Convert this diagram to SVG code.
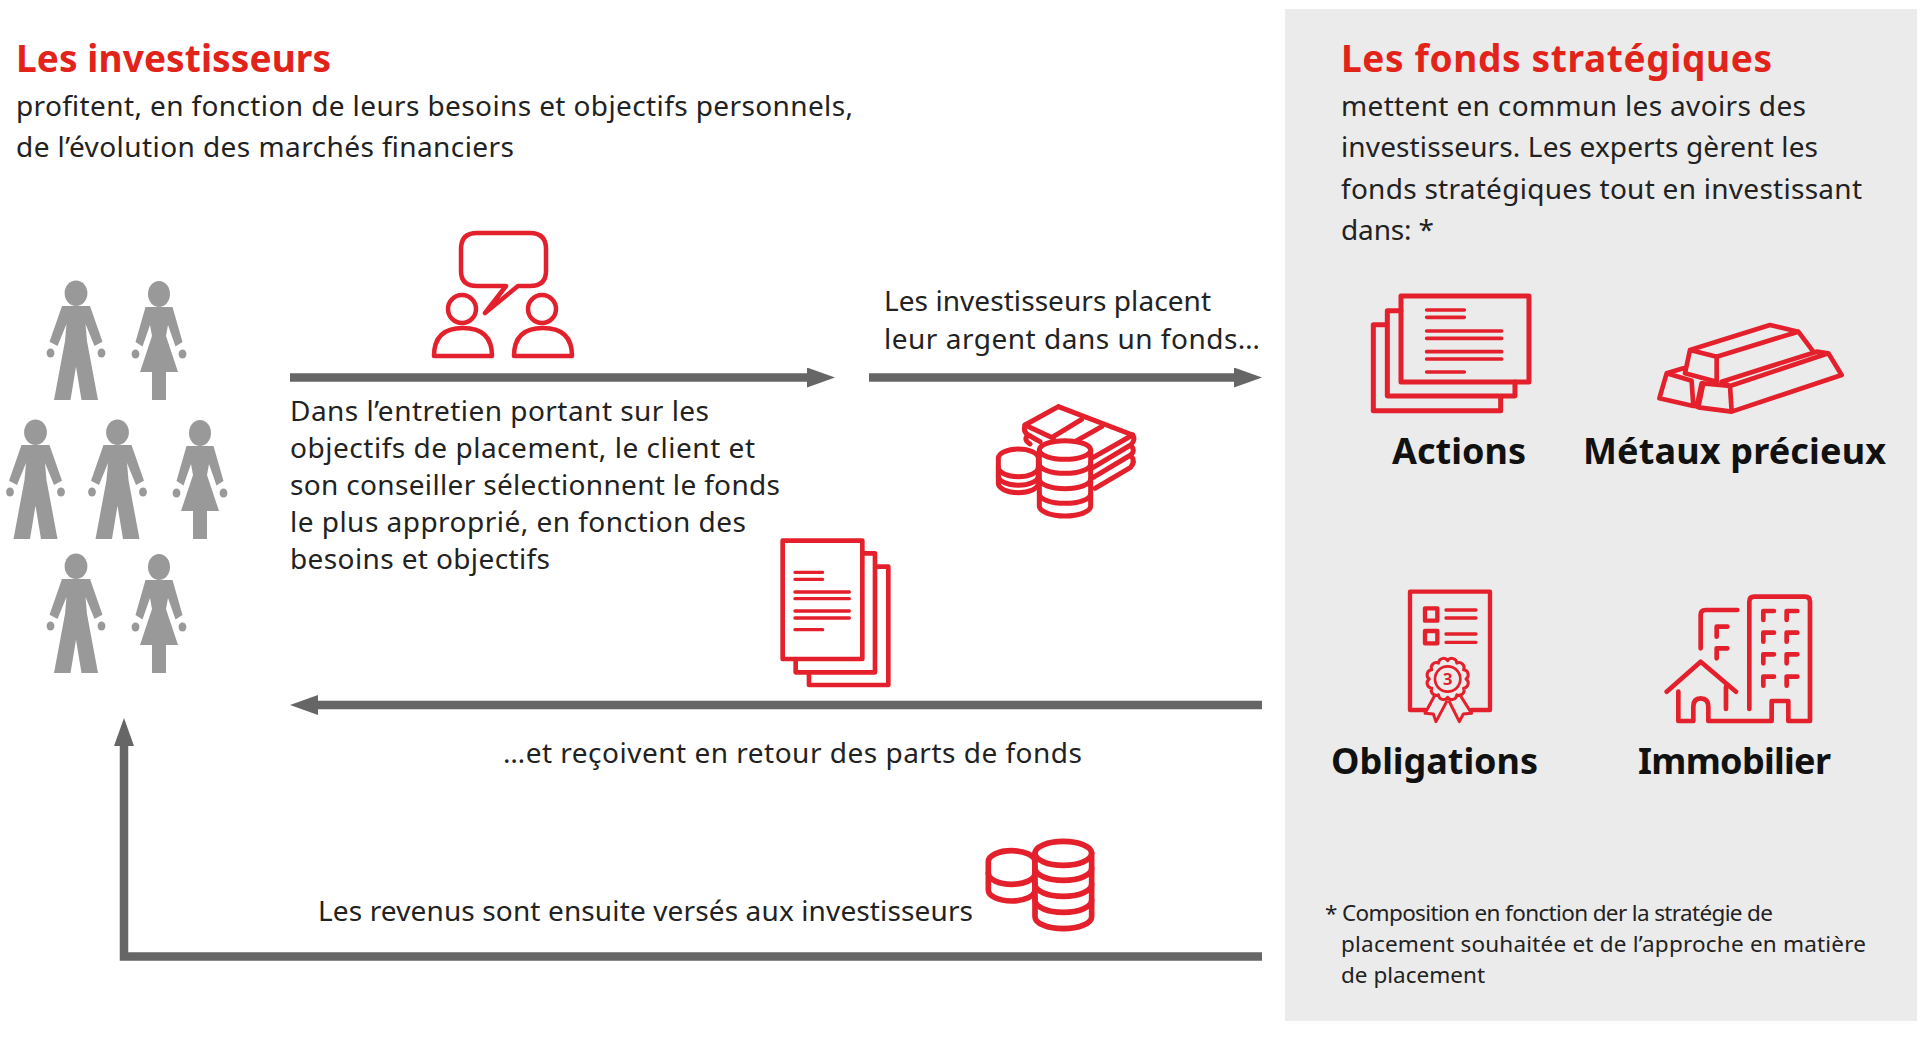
<svg xmlns="http://www.w3.org/2000/svg" xmlns:xlink="http://www.w3.org/1999/xlink" width="1920" height="1040" viewBox="0 0 1920 1040">
<style>
text{font-family:"Noto Sans","Open Sans","Liberation Sans",sans-serif;fill:#222}
.t{font-size:37px;font-weight:700;fill:#e2231a}
.b{font-size:28px}
.n{font-size:36px;font-weight:700;fill:#111}
.f{font-size:22.500px}
.r{fill:none;stroke:#e3202b;stroke-linejoin:round;stroke-linecap:round}
.w{fill:#fff}
.g{fill:#ebebeb}
.p{fill:#999}
.a{fill:none;stroke:#666;stroke-width:8.500}
</style>
<defs>
<marker id="h" markerUnits="userSpaceOnUse" markerWidth="28" markerHeight="20" refX="1" refY="10" orient="auto"><path d="M0 0L28 10L0 20Z" fill="#666"/></marker>
<g id="man"><ellipse cx="0" cy="12.300" rx="11.400" ry="12.800"/><path d="M-14 25H14L26.500 60.700L18.500 65L9.500 43L11 60L22 119H5.500L0 85.700L-5.500 119H-22L-11 60L-9.500 43L-18.500 65L-26.500 60.700Z"/><ellipse cx="-25.500" cy="72" rx="3.900" ry="4.600"/><ellipse cx="25.500" cy="72" rx="3.900" ry="4.600"/></g>
<g id="woman"><ellipse cx="0" cy="13" rx="11" ry="13"/><path d="M-13.500 26H13.500L23.500 61L16.500 65.500L9 44L7 55L19 91H7V119H-7V91H-19L-7 55L-9 44L-16.500 65.500L-23.500 61Z"/><ellipse cx="-23.500" cy="73" rx="3.900" ry="4.600"/><ellipse cx="23.500" cy="73" rx="3.900" ry="4.600"/></g>
</defs>
<rect x="0" y="0" width="1920" height="1040" fill="#fff"/>
<rect id="panel" x="1285" y="9" width="632" height="1012" class="g"/>
<g id="heading-left">
<text class="t" x="16" y="72" textLength="315">Les investisseurs</text>
<text class="b" x="16" y="116" textLength="837">profitent, en fonction de leurs besoins et objectifs personnels,</text>
<text class="b" x="16" y="157" textLength="498">de l’évolution des marchés financiers</text>
</g>
<g id="heading-right">
<text class="t" x="1341" y="72" textLength="431">Les fonds stratégiques</text>
<text class="b" x="1341" y="116" textLength="465">mettent en commun les avoirs des</text>
<text class="b" x="1341" y="157" textLength="477">investisseurs. Les experts gèrent les</text>
<text class="b" x="1341" y="199" textLength="521">fonds stratégiques tout en investissant</text>
<text class="b" x="1341" y="240" textLength="93">dans: *</text>
</g>
<g id="investors" class="p">
<use xlink:href="#man" x="76" y="281"/><use xlink:href="#woman" x="159" y="281"/>
<use xlink:href="#man" x="35.500" y="420"/><use xlink:href="#man" x="117.500" y="420"/><use xlink:href="#woman" x="200" y="420"/>
<use xlink:href="#man" x="76" y="554"/><use xlink:href="#woman" x="159" y="554"/>
</g>
<g id="connectors">
<path class="a" d="M290 377.500H808" marker-end="url(#h)"/>
<path class="a" d="M869 377.500H1235" marker-end="url(#h)"/>
<path class="a" d="M1262 705H317" marker-end="url(#h)"/>
<path class="a" d="M1262 956.500H124V745" marker-end="url(#h)"/>
</g>
<g id="icon-talk" class="r" stroke-width="4.500">
<path d="M477 233H530Q546 233 546 249V271Q546 286 530 286H518L485 313L506 286H477Q461 286 461 271V249Q461 233 477 233Z"/>
<circle cx="462" cy="309" r="14"/><circle cx="542" cy="309" r="14"/>
<path d="M434 356Q434 328 463 328Q492 328 492 356Z"/><path d="M514 356Q514 328 543 328Q572 328 572 356Z"/>
</g>
<g id="icon-money" class="r" transform="translate(960 380) scale(.3333)" stroke-width="15">
<path d="M295 80L518 165L400 232M295 80L195 135L280 175M365 118L280 170M425 140L345 185"/>
<path d="M195 135Q188 155 205 165L240 185M518 165Q528 180 512 195L400 262M512 195Q528 212 512 225L400 292M512 225Q528 245 512 262L405 325M205 165Q188 178 210 192"/>
<path class="w" d="M115 235A60 28 0 0 1 235 235V310A60 28 0 0 1 115 310Z"/>
<path d="M115 262A60 28 0 0 0 235 262M115 288A60 28 0 0 0 235 288"/>
<path class="w" d="M238 210A77 28 0 0 1 392 210V378A77 30 0 0 1 238 378Z"/>
<path d="M238 210A77 28 0 0 0 392 210M238 252A77 28 0 0 0 392 252M238 298A77 28 0 0 0 392 298M238 342A77 28 0 0 0 392 342"/>
</g>
<g id="icon-docs" class="r" transform="translate(760 520) scale(.3333)" stroke-width="14">
<rect x="68" y="62" width="239" height="355"/>
<path d="M307 100H345V457H107V417M345 140H385V495H147V457"/>
<path stroke-width="10" d="M105 157H188M105 178H188M105 216H268M105 236H268M105 273H268M105 294H268M105 329H188"/>
</g>
<g id="icon-coins" class="r" transform="translate(970 825) scale(.3333)" stroke-width="17">
<path class="w" d="M55 110A70 33 0 0 1 195 110V195A70 33 0 0 1 55 195Z"/>
<path d="M55 145A70 33 0 0 0 195 145"/>
<path class="w" d="M195 85A85 36 0 0 1 365 85V275A85 36 0 0 1 195 275Z"/>
<path d="M195 85A85 36 0 0 0 365 85M195 130A85 36 0 0 0 365 130M195 178A85 36 0 0 0 365 178M195 226A85 36 0 0 0 365 226"/>
</g>
<g id="icon-actions" class="r" transform="translate(1350 280) scale(.3333)" stroke-width="15">
<rect x="153" y="48" width="384" height="258"/>
<path d="M153 92H112V348H495V306M112 134H70V392H452V348"/>
<path stroke-width="11" d="M230 90H343M230 112H343M230 153H455M230 175H455M230 215H455M230 237H455M230 276H343"/>
</g>
<g id="icon-gold" class="r" transform="translate(1640 310) scale(.3333)" stroke-width="14">
<path d="M150 120L390 45L475 65L230 140ZM150 120L135 190L230 215V140M475 65L520 125"/>
<path d="M245 215L530 125L565 130L270 228ZM190 220L175 292L275 305L270 228L190 220M565 130L605 195L275 305"/>
<path d="M130 175L80 190L58 265L160 288L155 215M80 190L155 212M185 220L170 290"/>
</g>
<g id="icon-bond" class="r" transform="translate(1390 580) scale(.3333)" stroke-width="13">
<path d="M105 390H60V35H300V390H245"/>
<rect x="105" y="85" width="37" height="37"/><rect x="105" y="153" width="37" height="37"/>
<path d="M168 90H258M168 114H258M168 162H258M168 187H258" stroke-width="10"/>
<path stroke-width="9" d="M228 297A15 15 0 0 1 220.600 324.500A15 15 0 0 1 200.500 344.600A15 15 0 0 1 173 352A15 15 0 0 1 145.500 344.600A15 15 0 0 1 125.400 324.500A15 15 0 0 1 118 297A15 15 0 0 1 125.400 269.500A15 15 0 0 1 145.500 249.400A15 15 0 0 1 173 242A15 15 0 0 1 200.500 249.400A15 15 0 0 1 220.600 269.500A15 15 0 0 1 228 297Z"/>
<circle cx="173" cy="297" r="38" stroke-width="8"/>
<path stroke-width="9" d="M135 345L105 400L130 402L138 425L170 365M210 345L245 400L220 402L208 425L178 365"/>
<text x="173" y="315" text-anchor="middle" style="font-size:50px;font-weight:700;fill:#e3202b;stroke:none">3</text>
</g>
<g id="icon-building" class="r" transform="translate(1650 585) scale(.3333)" stroke-width="14">
<path d="M298 372V50Q298 35 313 35H465Q480 35 480 50V408H415V348H365V408H175V365Q175 340 152 340Q130 340 130 365V408H85V320M50 320L152 230L258 320M228 372V305M152 190V90Q152 75 167 75H262"/>
<path d="M340 105V78H372M410 105V78H442M340 170V143H372M410 170V143H442M340 235V208H372M410 235V208H442M340 302V275H372M410 302V275H442M200 155V125H232M200 220V190H232"/>
</g>
<g id="labels">
<text class="b" x="884" y="311" textLength="327">Les investisseurs placent</text>
<text class="b" x="884" y="349" textLength="376">leur argent dans un fonds…</text>
<text class="b" x="290" y="421" textLength="419">Dans l’entretien portant sur les</text>
<text class="b" x="290" y="458" textLength="465">objectifs de placement, le client et</text>
<text class="b" x="290" y="495" textLength="490">son conseiller sélectionnent le fonds</text>
<text class="b" x="290" y="532" textLength="456">le plus approprié, en fonction des</text>
<text class="b" x="290" y="569" textLength="260">besoins et objectifs</text>
<text class="b" x="503" y="763" textLength="579">…et reçoivent en retour des parts de fonds</text>
<text class="b" x="318" y="921" textLength="655">Les revenus sont ensuite versés aux investisseurs</text>
</g>
<g id="node-actions"><text class="n" x="1392" y="464" textLength="134">Actions</text></g>
<g id="node-metaux"><text class="n" x="1583" y="464" textLength="303">Métaux précieux</text></g>
<g id="node-obligations"><text class="n" x="1331" y="774" textLength="207">Obligations</text></g>
<g id="node-immobilier"><text class="n" x="1638" y="774" textLength="193">Immobilier</text></g>
<g id="footnote">
<text class="f" x="1325" y="921" textLength="448">* Composition en fonction der la stratégie de</text>
<text class="f" x="1341" y="952" textLength="525">placement souhaitée et de l’approche en matière</text>
<text class="f" x="1341" y="983" textLength="144">de placement</text>
</g>
</svg>
